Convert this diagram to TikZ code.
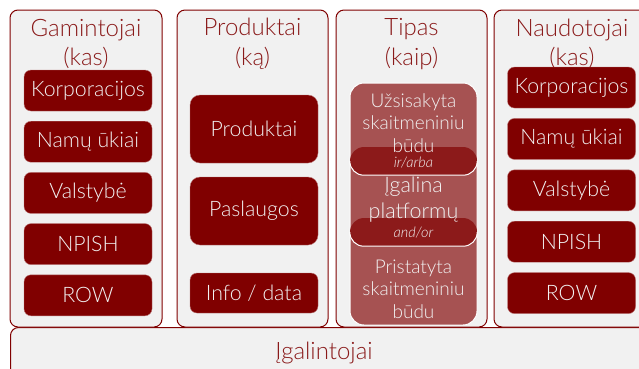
\documentclass[tikz,border=0pt]{standalone}
\usepackage{fontspec}
\setmainfont{Lato Light}[ItalicFont={Lato Light Italic}]

\definecolor{wine}{HTML}{800000}
\definecolor{winetext}{HTML}{8A1A1A}
\definecolor{panelgray}{HTML}{F1F1F1}
\definecolor{paletext}{HTML}{F2F2F2}
\definecolor{tiplight}{HTML}{A65252}
\definecolor{tipdark}{HTML}{8C1A1A}

\begin{document}
\begin{tikzpicture}[
        x=1pt, y=-1pt,
        panel/.style={
        draw=wine,
        line width=1pt,
        fill=panelgray,
        rounded corners=8pt,
        inner sep=0pt
      },
      title/.style={
        text=winetext,
        align=center,
        font=\fontsize{24}{29.5}\selectfont
      },
      item/.style={
        draw=wine!55!white,
        line width=0.4pt,
        fill=wine,
        text=paletext,
        rounded corners=7pt,
        minimum width=128pt,
        minimum height=41pt,
        inner sep=0pt,
        font=\fontsize{21.3}{25}\selectfont
      },
      bigitem/.style={
        item,
        rounded corners=10pt,
        minimum height=68pt
      },
      way/.style={
        text=paletext,
        align=center,
        font=\fontsize{19}{22.5}\selectfont
      },
      joiner/.style={
        fill=tipdark,
        rounded corners=14pt,
        minimum width=127pt,
        minimum height=28pt,
        inner sep=0pt
      },
      joinertext/.style={
        text=paletext,
        font=\fontsize{14.5}{16}\selectfont\itshape
      }
    ]

    \useasboundingbox (0,0) rectangle (639,368);
    \clip (0,0) rectangle (639,368);

    % bottom band and the four columns
    \node[panel, anchor=north west, minimum width=660pt, minimum height=70pt] (igal) at (10,327) {};
    \node[title] (igaltxt) at (324,353) {Įgalintojai};

    \node[panel, minimum width=152pt, minimum height=317pt] (gam) at (86,168.5) {};
    \node[panel, minimum width=151pt, minimum height=317pt] (prod) at (252.5,168.5) {};
    \node[panel, minimum width=151pt, minimum height=317pt] (tip) at (411.5,168.5) {};
    \node[panel, minimum width=166pt, minimum height=317pt] (naud) at (577,168.5) {};

    \node[title] (gamtxt) at (86,44) {Gamintojai\\(kas)};
    \node[title] (prodtxt) at (252.5,44) {Produktai\\(ką)};
    \node[title] (tiptxt) at (411.5,44) {Tipas\\(kaip)};
    \node[title] (naudtxt) at (572,44) {Naudotojai\\(kas)};

    % producers
    \node[item] (g1) at (88,90.5) {Korporacijos};
    \node[item] (g2) at (88,141.7) {Namų ūkiai};
    \node[item] (g3) at (88,192.9) {Valstybė};
    \node[item] (g4) at (88,244.1) {NPISH};
    \node[item] (g5) at (88,295.3) {ROW};

    % products
    \node[bigitem] (p1) at (254,129) {Produktai};
    \node[bigitem] (p2) at (254,211) {Paslaugos};
    \node[item, minimum height=40pt] (p3) at (254,293) {Info / data};

    % type stack
    \node[fill=tiplight, draw=white, line width=1pt, rounded corners=14pt,
          minimum width=127pt, minimum height=242pt, inner sep=0pt] (tipbg) at (413.5,204) {};
    \node[joiner] (or1) at (413.5,161) {};
    \node[joiner] (or2) at (413.5,232) {};
    \draw[white, line width=1pt, rounded corners=14pt]
      (or1.west) -- (or1.south west) -- (or1.south east) -- (or1.east);
    \draw[white, line width=1pt, rounded corners=14pt]
      (or2.west) -- (or2.south west) -- (or2.south east) -- (or2.east);

    \node[way] (w1) at (413.5,123) {Užsisakyta\\skaitmeniniu\\būdu};
    \node[way, font=\fontsize{21.5}{26}\selectfont] (w2) at (413.5,200) {Įgalina\\platformų};
    \node[way] (w3) at (413.5,289) {Pristatyta\\skaitmeniniu\\būdu};
    \node[joinertext] (or1txt) at (413.5,163) {ir/arba};
    \node[joinertext] (or2txt) at (413.5,233) {and/or};

    % users
    \node[item] (n1) at (571.5,87.5) {Korporacijos};
    \node[item] (n2) at (571.5,138.9) {Namų ūkiai};
    \node[item] (n3) at (571.5,190.3) {Valstybė};
    \node[item] (n4) at (571.5,241.7) {NPISH};
    \node[item] (n5) at (571.5,293.1) {ROW};

  \end{tikzpicture}
\end{document}
